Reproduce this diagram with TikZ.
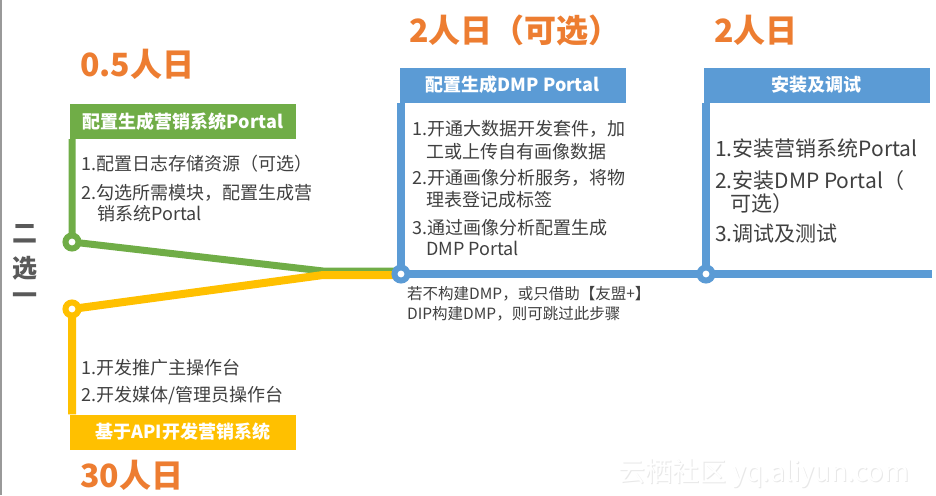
\documentclass[tikz,border=0pt]{standalone}
\usepackage{fontspec}
\setmainfont{Noto Sans CJK SC}
\definecolor{cgreen}{HTML}{70AD47}
\definecolor{cyellow}{HTML}{FFC000}
\definecolor{cblue}{HTML}{5B9BD5}
\definecolor{corange}{HTML}{ED7D31}
\definecolor{ctext}{HTML}{404040}
\definecolor{cdark}{HTML}{595959}
\begin{document}
\begin{tikzpicture}[x=1pt,y=-1pt,
  hdr/.style={minimum width=226pt, minimum height=35pt, inner sep=0pt, text=white, font=\fontsize{18}{18}\selectfont\bfseries},
  item/.style={anchor=base west, inner sep=0pt, text=ctext, font=\fontsize{18}{18}\selectfont},
  itembig/.style={item, font=\fontsize{21}{21}\selectfont},
  note/.style={item, font=\fontsize{15.5}{15.5}\selectfont},
  days/.style={anchor=base west, inner sep=0pt, text=corange, font=\fontsize{32}{32}\selectfont\bfseries},
  stop/.style={circle, fill=white, draw=#1, line width=6pt, minimum size=13pt, inner sep=0pt},
  track/.style={draw=#1, line width=7pt},
]
\useasboundingbox (0,0) rectangle (936,495);
\fill[white] (0,0) rectangle (936,495);
\draw[gray!80, line width=1.5pt] (0.75,0) -- (0.75,495);

% headers
\node[hdr, fill=cgreen] (gh) at (183,121.5) {配置生成营销系统Portal};
\node[hdr, fill=cyellow] (yh) at (183,432) {基于API开发营销系统};
\node[hdr, fill=cblue] (bh1) at (512.5,85) {配置生成DMP Portal};
\node[hdr, fill=cblue] (bh2) at (816.5,85) {安装及调试};

% stops
\coordinate (gcp) at (72,242);
\coordinate (ycp) at (72,309);
\coordinate (b1p) at (401,274);
\coordinate (b2p) at (706,274);
\coordinate (bend) at (932,274);
\coordinate (jg) at (323,271);
\coordinate (jy) at (323,275);

% tracks
\draw[track=cgreen] (gcp |- gh.south) -- (gcp) -- (jg) -- (jg -| b1p);
\draw[track=cyellow, line width=8pt] (ycp |- yh.north) -- (ycp) -- (jy) -- (jy -| b1p);
\draw[track=cblue, line width=7.5pt] (b1p |- bh1.south) -- (b1p) -- (bend);
\draw[track=cblue, line width=7.5pt] (b2p |- bh2.south) -- (b2p);

\node[stop=cgreen] (gc) at (gcp) {};
\node[stop=cyellow] (yc) at (ycp) {};
\node[stop=cblue] (b1) at (b1p) {};
\node[stop=cblue] (b2) at (b2p) {};

% day labels
\node[days] (d1) at (80,77) {0.5人日};
\node[days] (d2) at (80,487) {30人日};
\node[days] (d3) at (409,43) {2人日（可选）};
\node[days] (d4) at (714,43) {2人日};

% choose one
\node[text=cdark, font=\fontsize{25}{25}\selectfont\bfseries, inner sep=0pt] (c1) at (25,234) {二};
\node[text=cdark, font=\fontsize{25}{25}\selectfont\bfseries, inner sep=0pt] (c2) at (25,268) {选};
\node[text=cdark, font=\fontsize{25}{25}\selectfont\bfseries, inner sep=0pt] (c3) at (25,299) {一};

% green list
\node[item] (g1) at (81,170) {1.配置日志存储资源（可选）};
\node[item] (g2) at (81,199) {2.勾选所需模块，配置生成营};
\node[item] (g3) at (97,220) {销系统Portal};

% yellow list
\node[item] (y1) at (81,374) {1.开发推广主操作台};
\node[item] (y2) at (81,401) {2.开发媒体/管理员操作台};

% middle list
\node[item] (m1) at (412,135) {1.开通大数据开发套件，加};
\node[item] (m2) at (426,158) {工或上传自有画像数据};
\node[item] (m3) at (412,184) {2.开通画像分析服务，将物};
\node[item] (m4) at (426,206) {理表登记成标签};
\node[item] (m5) at (412,234) {3.通过画像分析配置生成};
\node[item] (m6) at (426,255) {DMP Portal};

\node[note] (n1) at (407,299) {若不构建DMP，或只借助【友盟+】};
\node[note] (n2) at (407,319) {DIP构建DMP，则可跳过此步骤};

% right list
\node[itembig] (r1) at (715,156) {1.安装营销系统Portal};
\node[itembig] (r2) at (715,188) {2.安装DMP Portal（};
\node[itembig] (r3) at (730,211) {可选）};
\node[itembig] (r4) at (715,241) {3.调试及测试};

% watermark
\node[anchor=base west, inner sep=0pt, text=black!9, font=\fontsize{27}{27}\selectfont] (wms) at (619,482) {云栖社区 yq.aliyun.com};
\node[anchor=base west, inner sep=0pt, text=white, font=\fontsize{27}{27}\selectfont] (wm) at (618,481) {云栖社区 yq.aliyun.com};
\end{tikzpicture}
\end{document}
